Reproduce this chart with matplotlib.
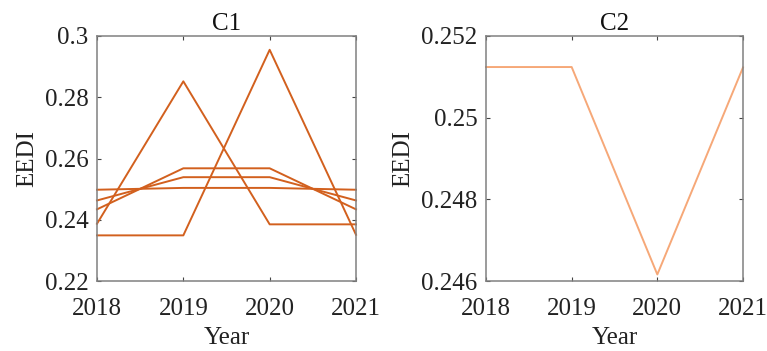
import numpy as np
import matplotlib.pyplot as plt

years = [2018, 2019, 2020, 2021]

# C1 cluster: five series
c1_series = [
    [0.2387, 0.2852, 0.2385, 0.2385],
    [0.2349, 0.2349, 0.2955, 0.2351],
    [0.2498, 0.2504, 0.2504, 0.2498],
    [0.2463, 0.2539, 0.2539, 0.2463],
    [0.2434, 0.2568, 0.2568, 0.2434],
]
# C2 cluster: one series
c2_series = [
    [0.25124, 0.25124, 0.24616, 0.25123],
]

c1_ticks = [0.22, 0.24, 0.26, 0.28, 0.3]
c1_labels = ["0.22", "0.24", "0.26", "0.28", "0.3"]
c2_ticks = [0.246, 0.248, 0.25, 0.252]
c2_labels = ["0.246", "0.248", "0.25", "0.252"]

plt.rcParams["font.family"] = ["Liberation Serif", "DejaVu Serif"]
plt.rcParams["font.size"] = 18

W, H = 767, 351
fig = plt.figure(figsize=(W / 100, H / 100), dpi=100)

axis_col = "#808080"


def style(ax, ticks, labels, title):
    ax.set_xlim(2018, 2021)
    ax.set_xticks(years)
    ax.set_xticklabels([str(y) for y in years])
    ax.set_ylim(ticks[0], ticks[-1])
    ax.set_yticks(ticks)
    ax.set_yticklabels(labels)
    ax.tick_params(direction="in", length=3, width=0.8, color="#444444",
                   top=True, right=True, labelcolor="#222222")
    ax.tick_params(axis="x", pad=12)
    ax.tick_params(axis="y", pad=6)
    for s in ax.spines.values():
        s.set_color(axis_col)
        s.set_linewidth(1.1)
    ax.set_title(title, fontsize=18, pad=4, color="#111111")
    ax.set_xlabel("Year", labelpad=5, color="#222222")
    ax.set_ylabel("EEDI", labelpad=5, color="#222222")


ax1 = fig.add_axes([97 / W, (H - 281) / H, 259 / W, 245 / H])
for s in c1_series:
    ax1.plot(years, s, color="#D2601E", lw=1.4, clip_on=False)
style(ax1, c1_ticks, c1_labels, "C1")

ax2 = fig.add_axes([486 / W, (H - 281) / H, 257 / W, 245 / H])
for s in c2_series:
    ax2.plot(years, s, color="#F6A878", lw=1.4, clip_on=False)
style(ax2, c2_ticks, c2_labels, "C2")

fig.savefig("out.png", dpi=100)
